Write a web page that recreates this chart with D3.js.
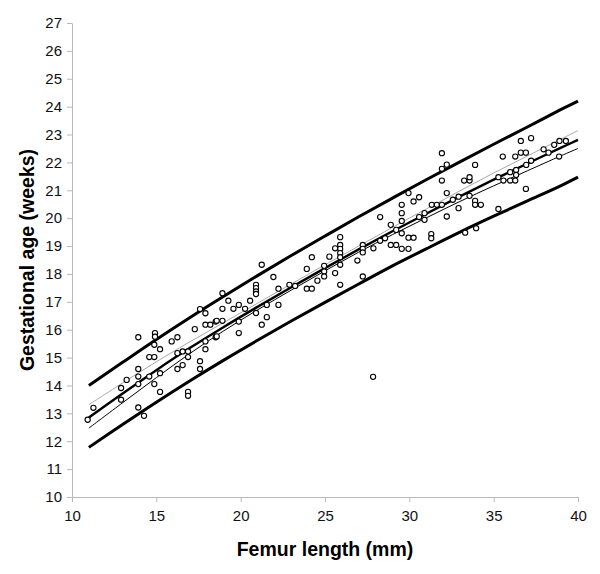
<!DOCTYPE html>
<html>
<head>
<meta charset="utf-8">
<script src="https://cdn.jsdelivr.net/npm/d3@7"></script>
<style>
  html, body { margin: 0; padding: 0; background: #fff; }
  svg { display: block; font-family: Arial, "Liberation Sans", sans-serif; }
</style>
</head>
<body>
<svg id="chart" width="600" height="574"></svg>
<script>
// ---- Data ----
const xTicks = [10, 15, 20, 25, 30, 35, 40];
const yTicks = [10, 11, 12, 13, 14, 15, 16, 17, 18, 19, 20, 21, 22, 23, 24, 25, 26, 27];

const curveX     = [11, 13, 15, 17, 19, 21, 23, 25, 27, 29, 31, 33, 35, 37, 39, 40];
const upperLine  = [14.0, 14.83, 15.65, 16.44, 17.2, 17.94, 18.66, 19.36, 20.05, 20.72, 21.38, 22.02, 22.65, 23.27, 23.9, 24.2];
const lowerLine  = [11.78, 12.6, 13.4, 14.17, 14.91, 15.62, 16.31, 16.98, 17.64, 18.29, 18.9, 19.5, 20.07, 20.62, 21.17, 21.47];
const meanLine   = [12.85, 13.71, 14.55, 15.35, 16.1, 16.82, 17.52, 18.21, 18.88, 19.53, 20.16, 20.78, 21.38, 21.96, 22.53, 22.81];
const thinBlack  = [12.47, 13.38, 14.28, 15.15, 15.96, 16.71, 17.42, 18.11, 18.78, 19.41, 20.01, 20.6, 21.16, 21.7, 22.24, 22.5];
const thinGrey   = [13.31, 14.09, 14.85, 15.57, 16.26, 16.95, 17.64, 18.33, 19.0, 19.67, 20.33, 20.98, 21.62, 22.23, 22.84, 23.14];

const femur = [
  10.93, 11.27, 12.91, 12.91, 13.24, 13.93, 14.27, 13.93, 14.88, 13.93,
  14.58, 13.93, 15.22, 15.22, 14.58, 14.88, 13.93, 14.92, 14.92, 14.88,
  15.22, 15.91, 16.25, 17.28, 17.59, 17.91, 17.91, 18.2, 18.52, 18.52,
  16.25, 16.56, 16.88, 16.88, 16.25, 16.56, 17.59, 17.59, 17.91, 17.91,
  16.88, 16.88,
  21.25, 21.94, 20.91, 20.91, 20.91, 20.91, 18.92, 19.27, 19.89, 19.57,
  18.92, 20.56, 20.26, 22.24, 22.89, 23.23, 22.24, 21.55, 20.91, 21.55,
  21.25, 19.89, 19.89, 18.58, 18.92, 18.58, 24.22, 23.92, 23.92, 24.22,
  24.55,
  31.93, 31.93, 32.22, 31.93, 32.22, 31.33, 31.63, 31.93, 32.22, 29.95,
  30.25, 30.58, 29.55, 29.55, 29.55, 28.27, 28.9, 29.22, 29.55, 30.58,
  30.9, 30.9, 29.95, 30.25, 31.3, 31.3, 28.9, 29.22, 29.55, 29.95,
  28.56, 28.27, 27.87, 27.24, 27.24, 27.24, 26.92, 27.24, 25.9, 25.9,
  25.9, 25.9, 25.9, 25.9, 25.6, 25.26, 25.6, 24.95, 24.95, 24.95,
  25.9, 27.85,
  36.61, 37.22, 36.61, 36.91, 36.28, 35.54, 37.96, 38.25, 38.59, 38.9,
  39.28, 38.88, 37.22, 36.93, 36.33, 36.33, 35.98, 35.28, 35.58, 35.98,
  36.28, 36.91, 35.28, 33.9, 33.25, 33.57, 33.57, 32.58, 32.92, 33.57,
  33.9, 33.9, 34.24, 32.92, 33.96, 33.31
];
const gestAge = [
  12.77, 13.2, 13.49, 13.91, 14.2, 13.21, 12.91, 14.05, 14.05, 14.32,
  14.32, 14.59, 14.44, 13.77, 15.02, 15.02, 15.73, 15.88, 15.75, 15.46,
  15.3, 15.58, 15.73, 16.02, 16.74, 16.59, 16.18, 16.18, 16.29, 15.73,
  15.16, 15.22, 15.22, 15.02, 14.59, 14.73, 14.87, 14.59, 15.58, 15.3,
  13.77, 13.63,
  18.33, 17.89, 17.61, 17.49, 17.37, 17.28, 17.31, 17.04, 16.89, 16.75,
  16.75, 17.04, 16.75, 17.47, 17.61, 17.57, 16.89, 16.89, 16.6, 16.45,
  16.18, 16.29, 15.88, 16.32, 16.32, 15.76, 18.6, 18.18, 17.47, 17.47,
  17.76,
  22.33, 21.77, 21.92, 21.35, 20.9, 20.48, 20.48, 20.48, 20.06, 20.9,
  20.6, 20.75, 20.48, 20.18, 19.9, 20.04, 19.76, 19.58, 19.46, 20.04,
  20.18, 19.94, 19.3, 19.3, 19.43, 19.28, 19.04, 19.04, 18.9, 18.9,
  19.28, 19.19, 18.92, 19.04, 18.9, 18.77, 18.48, 17.91, 19.32, 19.04,
  18.9, 18.75, 18.6, 18.33, 18.92, 18.62, 18.03, 18.29, 18.09, 17.91,
  17.61, 14.31,
  22.77, 22.87, 22.35, 22.35, 22.21, 22.21, 22.47, 22.35, 22.63, 22.77,
  22.77, 22.21, 22.06, 21.91, 21.73, 21.55, 21.65, 21.47, 21.35, 21.35,
  21.35, 21.05, 20.33, 21.91, 21.35, 21.35, 21.47, 20.66, 20.77, 20.8,
  20.62, 20.48, 20.48, 20.36, 19.64, 19.48
];

// ---- Layout ----
const svg = d3.select("#chart");
const x = d3.scaleLinear().domain([10, 40]).range([72, 578]);
const y = d3.scaleLinear().domain([10, 27]).range([497, 23]);
const axisColor = "#b8b8b8";

// Axes
const xAxis = svg.append("g")
  .attr("transform", `translate(0,${y(10)})`)
  .call(d3.axisBottom(x).tickValues(xTicks).tickSize(5).tickPadding(8).tickSizeOuter(0));
const yAxis = svg.append("g")
  .attr("transform", `translate(${x(10)},0)`)
  .call(d3.axisLeft(y).tickValues(yTicks).tickSize(5).tickPadding(5).tickSizeOuter(0));
[xAxis, yAxis].forEach(g => {
  g.select(".domain").attr("stroke", axisColor).attr("stroke-width", 1);
  g.selectAll(".tick line").attr("stroke", axisColor).attr("stroke-width", 1);
  g.selectAll(".tick text").attr("fill", "#111").style("font-size", "15px")
    .style("font-family", "Arial, 'Liberation Sans', sans-serif");
});

// Lines
const lineGen = vals => d3.line()
  .x((d, i) => x(curveX[i]))
  .y(d => y(d))
  .curve(d3.curveCatmullRom)(vals);

svg.append("path").attr("d", lineGen(thinGrey)).attr("fill", "none")
  .attr("stroke", "#a8a8a8").attr("stroke-width", 1);
svg.append("path").attr("d", lineGen(thinBlack)).attr("fill", "none")
  .attr("stroke", "#000").attr("stroke-width", 1);
svg.append("path").attr("d", lineGen(meanLine)).attr("fill", "none")
  .attr("stroke", "#000").attr("stroke-width", 2.4);
svg.append("path").attr("d", lineGen(upperLine)).attr("fill", "none")
  .attr("stroke", "#000").attr("stroke-width", 3);
svg.append("path").attr("d", lineGen(lowerLine)).attr("fill", "none")
  .attr("stroke", "#000").attr("stroke-width", 3);

// Points
svg.append("g").selectAll("circle")
  .data(femur.map((f, i) => [f, gestAge[i]]))
  .join("circle")
  .attr("cx", d => x(d[0]))
  .attr("cy", d => y(d[1]))
  .attr("r", 2.6)
  .attr("fill", "#fff")
  .attr("stroke", "#000")
  .attr("stroke-width", 1.1);

// Axis titles
svg.append("text")
  .attr("x", 325).attr("y", 556)
  .attr("text-anchor", "middle")
  .style("font-size", "19.5px").style("font-weight", "bold")
  .text("Femur length (mm)");
svg.append("text")
  .attr("transform", `translate(34,${(y(10) + y(27)) / 2}) rotate(-90)`)
  .attr("text-anchor", "middle")
  .style("font-size", "19.5px").style("font-weight", "bold")
  .text("Gestational age (weeks)");
</script>
</body>
</html>
